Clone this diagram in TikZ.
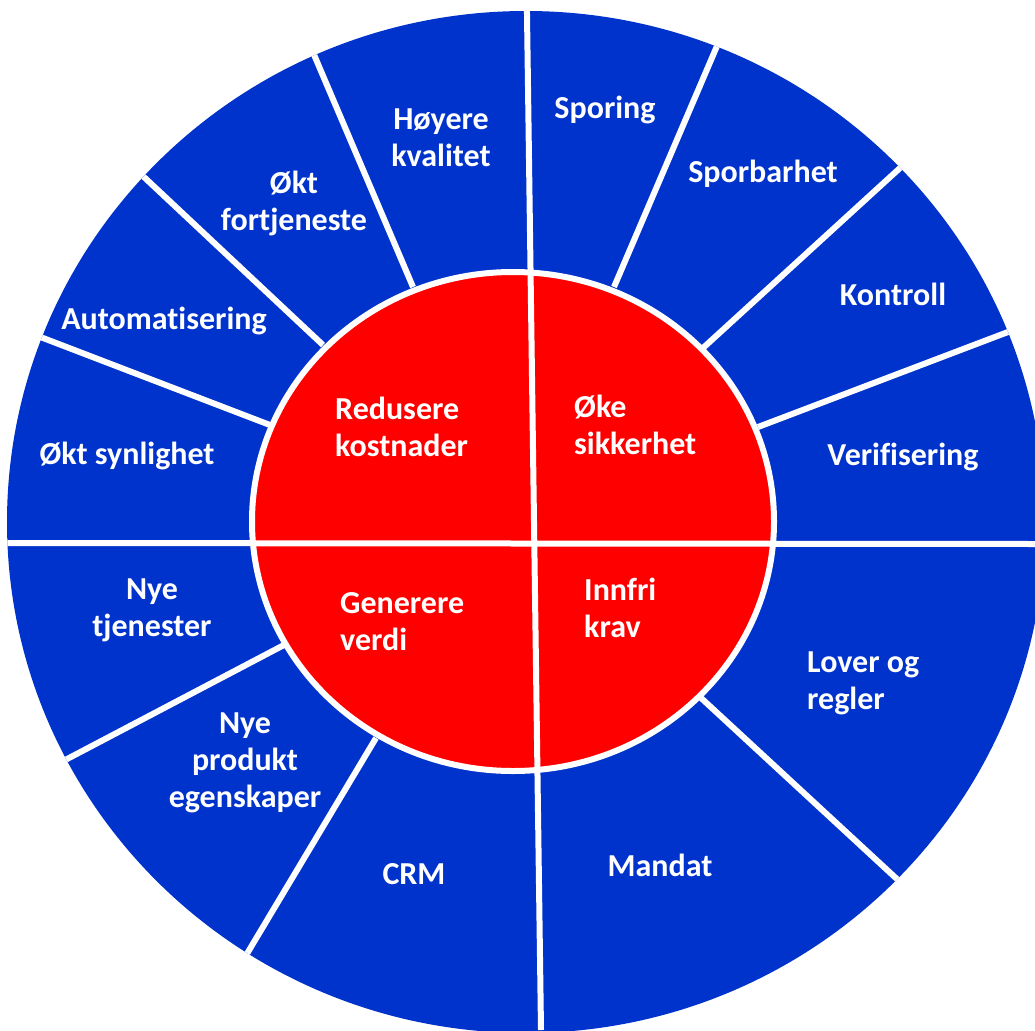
\documentclass[tikz,border=0pt]{standalone}
\usepackage{fontspec}
\setmainfont{Carlito}[Ligatures=NoCommon]
\usetikzlibrary{calc}
\definecolor{ringblue}{RGB}{0,51,204}
\definecolor{corered}{RGB}{255,0,0}
\begin{document}
\begin{tikzpicture}[x=1pt,y=-1pt,
  lbl/.style={text=white,font=\bfseries\fontsize{32}{37}\selectfont,inner sep=0pt,align=center},
  lbll/.style={lbl,align=left,anchor=west},
  sepline/.style={white,line width=6pt},
]
\useasboundingbox[fill=white] (0,0) rectangle (1035,1030);
% outer ring
\coordinate (oc) at (526,522);
\coordinate (ic) at (513,521.5);
\fill[ringblue] (oc) ellipse [x radius=519, y radius=511];
% separator end points (inner, outer)
\coordinate (s1i) at (270,425);  \coordinate (s1o) at (43,338);
\coordinate (s2i) at (323,345);  \coordinate (s2o) at (145,178);
\coordinate (s3i) at (413,287);  \coordinate (s3o) at (315,57);
\coordinate (s4i) at (614,287);  \coordinate (s4o) at (717,46);
\coordinate (s5i) at (703,348);  \coordinate (s5o) at (900,168);
\coordinate (s6i) at (758,427);  \coordinate (s6o) at (1008,332);
\coordinate (s7i) at (700,697);  \coordinate (s7o) at (898,880);
\coordinate (s8i) at (376,738);  \coordinate (s8o) at (248,952);
\coordinate (s9i) at (284,645);  \coordinate (s9o) at (69,758);
\coordinate (vt) at (526.8,0);   \coordinate (vb) at (541,1030);
\coordinate (hl) at (0,543);     \coordinate (hr) at (1035,544);
\begin{scope}
  \clip (oc) ellipse [x radius=519, y radius=511];
  \foreach \k in {1,...,9}{
    \draw[sepline] (s\k i) -- ($(s\k i)!1.3!(s\k o)$);
  }
  % inner red disc
  \filldraw[fill=corered, draw=white, line width=6pt] (ic) ellipse [x radius=261, y radius=249.5];
  \draw[sepline] (vt) -- (vb);
  \draw[sepline] (hl) -- (hr);
\end{scope}
% inner labels
\node[lbll] (redusere) at (335,427) {Redusere\\kostnader};
\node[lbll] (oke) at (574,425) {Øke\\sikkerhet};
\node[lbll] (generere) at (340,622) {Generere\\verdi};
\node[lbll] (innfri) at (584,608) {Innfri\\krav};
% outer labels
\node[lbl] (hoyere) at (441,138) {Høyere\\kvalitet};
\node[lbl] (fortj) at (294,203) {Økt\\fortjeneste};
\node[lbl] (autom) at (164,321) {Automatisering};
\node[lbl] (synl) at (127,456) {Økt synlighet};
\node[lbl] (sporing) at (605,110) {Sporing};
\node[lbl] (sporb) at (763,174) {Sporbarhet};
\node[lbl] (kontroll) at (893,294) {Kontroll};
\node[lbl] (verif) at (903,457) {Verifisering};
\node[lbll] (lover) at (807,683) {Lover og\\regler};
\node[lbl] (mandat) at (660,865) {Mandat};
\node[lbl] (crm) at (414,874) {CRM};
\node[lbl] (produkt) at (245,763) {Nye\\produkt\\egenskaper};
\node[lbl] (tjen) at (152,610) {Nye\\tjenester};
\end{tikzpicture}
\end{document}
